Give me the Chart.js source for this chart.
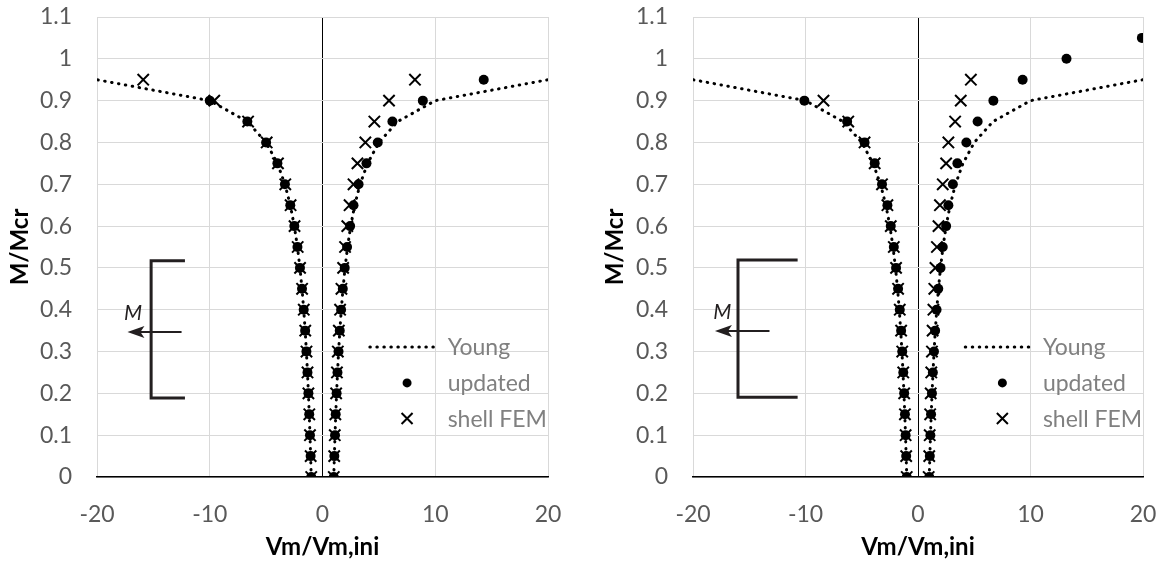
<!DOCTYPE html>
<html>
<head>
<meta charset="utf-8">
<script src="https://cdn.jsdelivr.net/npm/chart.js@4.4.0/dist/chart.umd.min.js"></script>
<style>
  body { margin: 0; background: #fff; }
  #wrap { position: relative; width: 1163px; height: 563px; }
  #panelA { position: absolute; left: 0; top: 0; }
  #panelB { position: absolute; left: 581px; top: 0; }
</style>
</head>
<body>
<div id="wrap">
  <canvas id="panelA" width="581" height="563"></canvas>
  <canvas id="panelB" width="582" height="563"></canvas>
</div>
<script>
// M/Mcr levels (y values), shared by every series
const mLevels = [0, 0.05, 0.1, 0.15, 0.2, 0.25, 0.3, 0.35, 0.4, 0.45, 0.5, 0.55, 0.6, 0.65, 0.7, 0.75, 0.8, 0.85, 0.9, 0.95, 1.0, 1.05];

const xTickLabels = ['-20', '-10', '0', '10', '20'];
const yTickLabels = ['0', '0.1', '0.2', '0.3', '0.4', '0.5', '0.6', '0.7', '0.8', '0.9', '1', '1.1'];
const legendLabels = ['Young', 'updated', 'shell FEM'];

// Young curve (same in both panels), Vm/Vm,ini
const youngPos = [1, 1.053, 1.111, 1.176, 1.25, 1.333, 1.429, 1.538, 1.667, 1.818, 2, 2.222, 2.5, 2.857, 3.333, 4, 5, 6.667, 10, 20];
const youngNeg = [-1, -1.053, -1.111, -1.176, -1.25, -1.333, -1.429, -1.538, -1.667, -1.818, -2, -2.222, -2.5, -2.857, -3.333, -4, -5, -6.667, -10, -20];

// left panel
const updatedNegA = [-1, -1.053, -1.111, -1.176, -1.25, -1.333, -1.429, -1.538, -1.667, -1.818, -2, -2.222, -2.5, -2.857, -3.333, -4, -5, -6.667, -10];
const femNegA = [-1, -1.05, -1.11, -1.17, -1.25, -1.33, -1.42, -1.53, -1.66, -1.81, -1.99, -2.2, -2.48, -2.83, -3.3, -3.95, -4.95, -6.6, -9.6, -15.9];
const updatedPosA = [1, 1.05, 1.11, 1.17, 1.25, 1.33, 1.42, 1.53, 1.65, 1.8, 1.97, 2.18, 2.45, 2.75, 3.2, 3.9, 4.9, 6.2, 8.9, 14.3];
const femPosA = [1, 1.04, 1.09, 1.14, 1.21, 1.28, 1.36, 1.45, 1.56, 1.68, 1.83, 2.0, 2.2, 2.4, 2.75, 3.1, 3.8, 4.6, 5.9, 8.2];

// right panel
const updatedNegB = [-1, -1.05, -1.1, -1.16, -1.23, -1.31, -1.4, -1.5, -1.62, -1.77, -1.95, -2.15, -2.42, -2.72, -3.2, -3.85, -4.75, -6.3, -10.1];
const femNegB = [-1, -1.05, -1.1, -1.16, -1.23, -1.31, -1.4, -1.5, -1.62, -1.77, -1.95, -2.15, -2.42, -2.72, -3.2, -3.85, -4.75, -6.2, -8.4];
const updatedPosB = [1, 1.05, 1.1, 1.16, 1.24, 1.32, 1.42, 1.52, 1.65, 1.8, 2.0, 2.2, 2.5, 2.7, 3.1, 3.5, 4.3, 5.3, 6.7, 9.3, 13.2, 19.9];
const femPosB = [0.95, 1.0, 1.04, 1.08, 1.13, 1.18, 1.24, 1.3, 1.37, 1.45, 1.55, 1.68, 1.82, 1.95, 2.2, 2.5, 2.7, 3.3, 3.8, 4.7];

const tickColor = '#595959';
const gridColor = '#d9d9d9';
const inkColor = '#231f20';

function pts(xs) {
  return xs.map((v, i) => ({ x: v, y: mLevels[i] }));
}

// draws the beam-end sketch and the legend inside the plot
const sketchPlugin = {
  id: 'sketch',
  afterDatasetsDraw(chart, args, opts) {
    const ctx = chart.ctx;
    const xs = chart.scales.x, ys = chart.scales.y;
    const px = v => xs.getPixelForValue(v);
    const py = v => ys.getPixelForValue(v);
    const b = opts.bracket;
    ctx.save();
    ctx.strokeStyle = inkColor;
    ctx.fillStyle = inkColor;
    ctx.lineWidth = 3;
    ctx.lineJoin = 'miter';
    ctx.beginPath();
    ctx.moveTo(px(b.armX), py(b.top));
    ctx.lineTo(px(b.stemX), py(b.top));
    ctx.lineTo(px(b.stemX), py(b.bottom));
    ctx.lineTo(px(b.armX), py(b.bottom));
    ctx.stroke();
    // arrow
    const ay = py(b.arrowY);
    const tip = px(b.arrowTip);
    ctx.lineWidth = 2;
    ctx.beginPath();
    ctx.moveTo(px(b.arrowEnd), ay);
    ctx.lineTo(tip + 10, ay);
    ctx.stroke();
    ctx.beginPath();
    ctx.moveTo(tip, ay);
    ctx.lineTo(tip + 17, ay - 6);
    ctx.lineTo(tip + 13, ay);
    ctx.lineTo(tip + 17, ay + 6);
    ctx.closePath();
    ctx.fill();
    ctx.font = 'italic 21px Lato';
    ctx.textAlign = 'center';
    ctx.textBaseline = 'middle';
    ctx.fillText('M', px(b.labelX), py(b.labelY));

    // legend
    const lg = opts.legend;
    ctx.fillStyle = '#000';
    ctx.strokeStyle = '#000';
    ctx.lineWidth = 3;
    ctx.lineCap = 'round';
    ctx.setLineDash([0.5, 6.5]);
    ctx.beginPath();
    ctx.moveTo(px(lg.lineFrom), py(lg.rows[0]));
    ctx.lineTo(px(lg.lineTo), py(lg.rows[0]));
    ctx.stroke();
    ctx.setLineDash([]);
    ctx.beginPath();
    ctx.arc(px(lg.symbolX), py(lg.rows[1]), 4.5, 0, Math.PI * 2);
    ctx.fill();
    ctx.lineWidth = 2;
    ctx.lineCap = 'butt';
    const cx = px(lg.symbolX), cy = py(lg.rows[2]), d = 5.5;
    ctx.beginPath();
    ctx.moveTo(cx - d, cy - d); ctx.lineTo(cx + d, cy + d);
    ctx.moveTo(cx - d, cy + d); ctx.lineTo(cx + d, cy - d);
    ctx.stroke();
    ctx.fillStyle = '#808080';
    ctx.font = '23px Lato';
    ctx.textAlign = 'left';
    for (let i = 0; i < legendLabels.length; i++) {
      ctx.fillText(legendLabels[i], px(lg.textX), py(lg.rows[i]) + 1);
    }
    ctx.restore();
  }
};

function makePanel(id, updNeg, updPos, femNeg, femPos, padLeft, padRight, areaLeft, bracket) {
  const dotted = {
    type: 'scatter', showLine: true, borderColor: '#000', borderWidth: 3,
    borderDash: [0.5, 6.5], borderCapStyle: 'round', pointRadius: 0, tension: 0, fill: false
  };
  const circles = { type: 'scatter', pointStyle: 'circle', pointRadius: 5, backgroundColor: '#000', borderColor: '#000', borderWidth: 0 };
  const crosses = { type: 'scatter', pointStyle: 'crossRot', pointRadius: 8, borderColor: '#000', borderWidth: 2 };

  return new Chart(document.getElementById(id), {
    type: 'scatter',
    data: {
      datasets: [
        Object.assign({ label: 'shell FEM', data: pts(femNeg).concat(pts(femPos)) }, crosses),
        Object.assign({ label: 'updated', data: pts(updNeg).concat(pts(updPos)) }, circles),
        Object.assign({ label: 'Young', data: pts(youngNeg) }, dotted),
        Object.assign({ label: 'Young', data: pts(youngPos) }, dotted)
      ]
    },
    options: {
      responsive: false,
      animation: false,
      layout: { padding: { left: padLeft, right: padRight, top: 17, bottom: 0 } },
      plugins: {
        legend: { display: false },
        tooltip: { enabled: false },
        sketch: {
          bracket: bracket,
          legend: { lineFrom: 4.2, lineTo: 10.1, symbolX: 7.5, textX: 11.1, rows: [0.311, 0.225, 0.14] }
        }
      },
      scales: {
        x: {
          min: -20, max: 20,
          afterFit: s => { s.height = 86; s.paddingLeft = 0; s.paddingRight = 0; },
          ticks: {
            stepSize: 10, color: tickColor, padding: 24,
            font: { family: 'Lato', size: 23 },
            callback: (v, i) => xTickLabels[i]
          },
          grid: {
            drawTicks: false,
            color: c => (c.tick && c.tick.value === 0) ? '#000' : gridColor,
            lineWidth: 1
          },
          border: { display: true, color: '#000', width: 1.5 },
          title: {
            display: true, text: 'Vm/Vm,ini', color: '#000',
            font: { family: 'Lato', size: 24, weight: 'bold' },
            padding: { top: 0, bottom: 1 }
          }
        },
        y: {
          min: 0, max: 1.1,
          afterFit: s => { s.width = areaLeft - padLeft; s.paddingTop = 0; s.paddingBottom = 0; },
          ticks: {
            stepSize: 0.1, color: tickColor, padding: 25,
            font: { family: 'Lato', size: 23 },
            callback: (v, i) => yTickLabels[i]
          },
          grid: { drawTicks: false, color: gridColor },
          border: { display: false },
          title: {
            display: true, text: 'M/Mcr', color: '#000',
            font: { family: 'Lato', size: 24, weight: 'bold' },
            padding: { top: 4, bottom: 4 }
          }
        }
      }
    },
    plugins: [sketchPlugin]
  });
}

makePanel('panelA', updatedNegA, updatedPosA, femNegA, femPosA, 2, 33, 97,
  { top: 0.517, bottom: 0.189, stemX: -15.2, armX: -12.2, arrowY: 0.347, arrowTip: -17.3, arrowEnd: -12.5, labelX: -16.8, labelY: 0.392 });

makePanel('panelB', updatedNegB, updatedPosB, femNegB, femPosB, 16, 20, 112,
  { top: 0.519, bottom: 0.191, stemX: -16.0, armX: -10.7, arrowY: 0.349, arrowTip: -18.05, arrowEnd: -13.2, labelX: -17.4, labelY: 0.395 });
</script>
</body>
</html>
